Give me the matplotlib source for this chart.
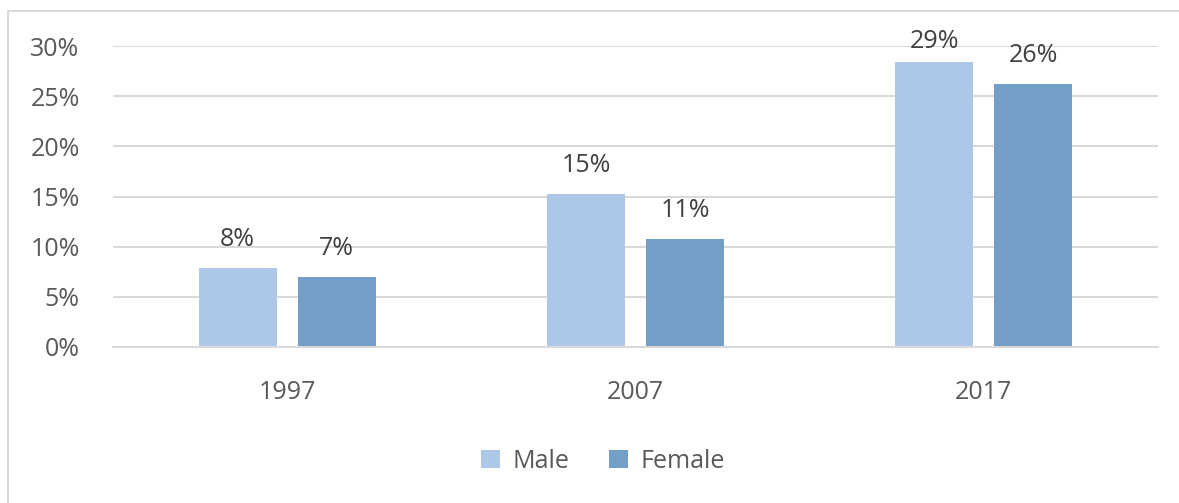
import matplotlib.pyplot as plt
import matplotlib.patches as patches
import numpy as np

years = ['1997', '2007', '2017']
male = [7.9, 15.2, 28.4]
female = [7.0, 10.8, 26.2]
male_labels = ['8%', '15%', '29%']
female_labels = ['7%', '11%', '26%']

plt.rcParams['font.family'] = ['Open Sans', 'DejaVu Sans']
FS = 18

fig = plt.figure(figsize=(11.79, 5.03), dpi=100)
ax = fig.add_axes([113 / 1179, 1 - 347 / 503, (1158 - 113) / 1179, (347 - 46) / 503])

# light frame around the chart area
fig.patches.append(patches.Rectangle((8 / 1179, -0.1), 1.2, 1 - 11 / 503 + 0.1,
                                     transform=fig.transFigure, fill=False,
                                     edgecolor='#d9d9d9', lw=1.5))

x = np.arange(len(years))
w = 0.224
off = 0.142
b1 = ax.bar(x - off, male, w, color='#adc8e7', label='Male', zorder=2)
b2 = ax.bar(x + off, female, w, color='#729ec8', label='Female', zorder=2)

# labels sit above the bars, but are kept inside the plot area
for bars, labs in ((b1, male_labels), (b2, female_labels)):
    for r, lab in zip(bars, labs):
        y = min(r.get_height() + 1.6, 29.2)
        ax.text(r.get_x() + r.get_width() / 2, y, lab,
                ha='center', va='bottom', fontsize=FS, color='#404040')

ax.set_xlim(-0.5, 2.5)
ax.set_ylim(0, 30)
ax.set_yticks(range(0, 31, 5))
ax.set_yticklabels(['%d%%' % v for v in range(0, 31, 5)])
ax.set_xticks(x)
ax.set_xticklabels(years)
ax.yaxis.grid(True, color='#d9d9d9', lw=1.5, zorder=0)
ax.set_axisbelow(True)
for s in ax.spines.values():
    s.set_visible(False)
ax.spines['bottom'].set_visible(True)
ax.spines['bottom'].set_color('#d9d9d9')
ax.spines['bottom'].set_linewidth(1.5)
ax.tick_params(axis='both', length=0, labelsize=FS, colors='#595959')
ax.tick_params(axis='y', pad=24)
ax.tick_params(axis='x', pad=24)

fig.legend(loc='center', bbox_to_anchor=(603 / 1179, 1 - 461 / 503), ncol=2,
           frameon=False, fontsize=FS, labelcolor='#595959',
           handlelength=0.75, handleheight=0.75, handletextpad=0.5, columnspacing=1.6)

plt.savefig('out.png', dpi=100)
plt.close()
